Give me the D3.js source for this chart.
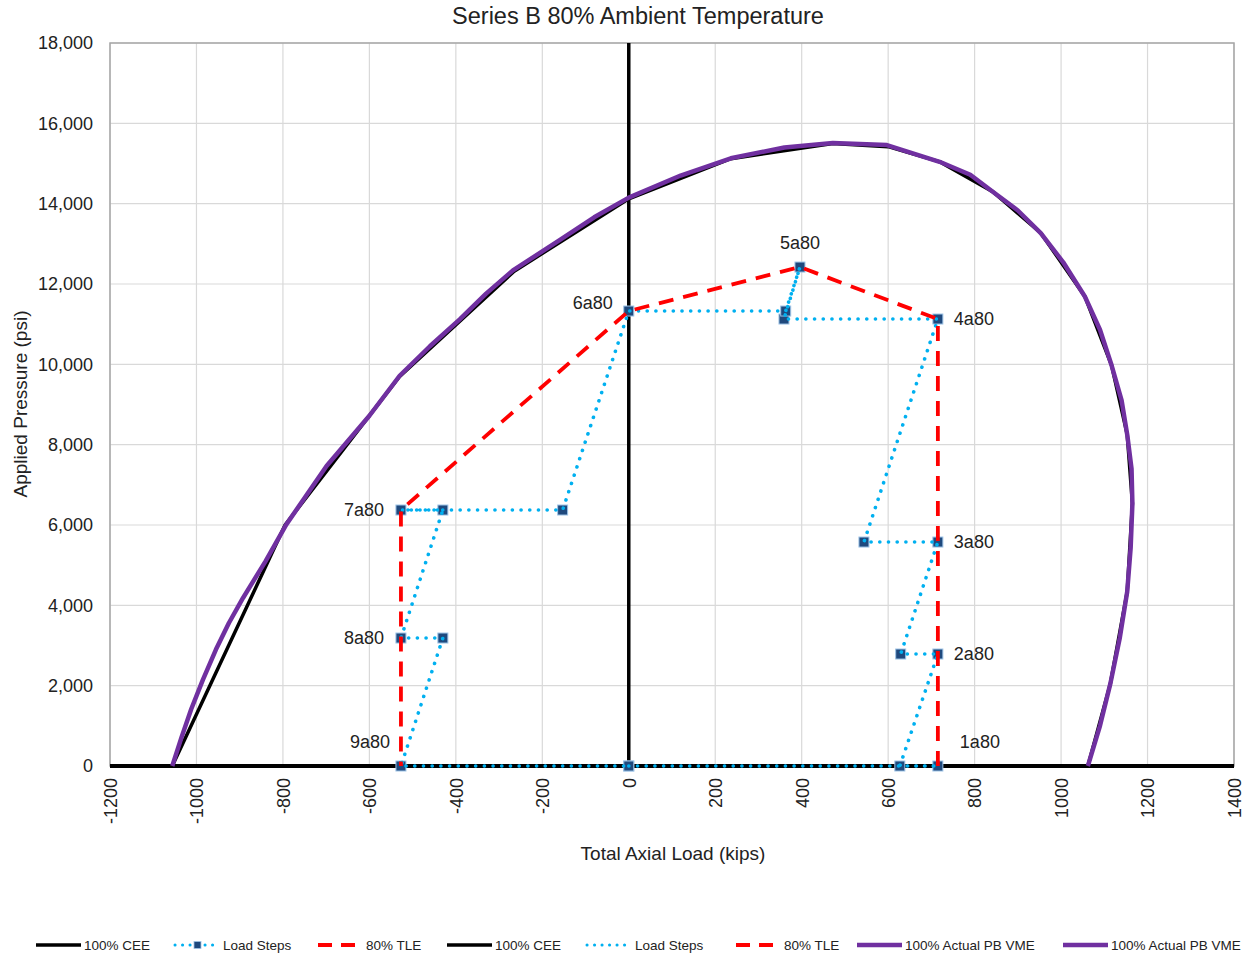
<!DOCTYPE html>
<html>
<head>
<meta charset="utf-8">
<script src="https://cdn.jsdelivr.net/npm/d3@7"></script>
<style>
  body { margin: 0; background: #fff; }
  svg text { font-family: "Liberation Sans", Arial, sans-serif; fill: #222; }
</style>
</head>
<body>
<div id="vis"></div>
<script>
// axis ticks
var xTicks = [-1200, -1000, -800, -600, -400, -200, 0, 200, 400, 600, 800, 1000, 1200, 1400];
var yTicks = [0, 2000, 4000, 6000, 8000, 10000, 12000, 14000, 16000, 18000];

// 100% CEE envelope (kips, psi)
var ceeX = [-1056, -795, -530, -265, 0, 236, 472, 600, 720, 842, 953, 1055, 1117, 1153, 1165, 1153, 1114, 1062];
var ceeY = [0, 6000, 9700, 12320, 14120, 15120, 15500, 15420, 15040, 14300, 13270, 11690, 9970, 8250, 6540, 4340, 2050, 0];

// 100% Actual PB VME envelope
var vmeX = [-1056, -1035, -1012, -985, -955, -925, -892, -840, -792, -699, -600, -530, -460, -391, -330, -268, -160, -80, 0, 120, 236, 360, 472, 597, 719, 790, 842, 900, 953, 1005, 1055, 1090, 1117, 1140, 1153, 1163, 1165, 1161, 1153, 1136, 1114, 1090, 1062];
var vmeY = [0, 700, 1420, 2150, 2900, 3560, 4190, 5100, 6015, 7470, 8720, 9716, 10450, 11120, 11760, 12340, 13090, 13660, 14150, 14700, 15130, 15400, 15510, 15460, 15043, 14720, 14297, 13830, 13268, 12540, 11688, 10860, 9970, 9100, 8252, 7400, 6535, 5440, 4341, 3200, 2051, 1000, 0];

// load steps path
var stepX = [0, 715, 627, 715, 629, 715, 544, 715, 359, 396, 363, 0, -153, -527, -430, -527, -430, -527, 0];
var stepY = [0, 0, 0, 2788, 2788, 5576, 5576, 11128, 11128, 12422, 11327, 11327, 6373, 6373, 6373, 3186, 3186, 0, 0];

// 80% TLE path
var tleX = [715, 715, 715, 715, 396, 0, -527, -527, -527];
var tleY = [0, 2788, 5576, 11128, 12422, 11327, 6373, 3186, 0];
var tleNames = ['1a80', '2a80', '3a80', '4a80', '5a80', '6a80', '7a80', '8a80', '9a80'];
var labelPlace = ['upright', 'right', 'right', 'right', 'above', 'upleft6', 'left', 'left', 'upleft'];

var legendNames = ['100% CEE', 'Load Steps', '80% TLE', '100% CEE', 'Load Steps', '80% TLE', '100% Actual PB VME', '100% Actual PB VME'];
var legendKinds = ['cee', 'steps', 'tle', 'cee', 'stepsNoMark', 'tle', 'vme', 'vme'];
var legendX = [36, 175, 318, 447, 587, 736, 857, 1063];

var colors = {
  cee: '#000000',
  steps: '#00B0F0',
  tle: '#FF0000',
  vme: '#7030A0',
  marker: '#1F497D',
  markerEdge: '#9DC3E6',
  grid: '#D9D9D9',
  border: '#A6A6A6'
};

var width = 1256, height = 953;
var plot = { left: 110, right: 1234, top: 43, bottom: 766 };

var svg = d3.select('#vis').append('svg')
  .attr('width', width)
  .attr('height', height);

var x = d3.scaleLinear().domain([-1200, 1400]).range([plot.left, plot.right]);
var y = d3.scaleLinear().domain([0, 18000]).range([plot.bottom, plot.top]);

function zipPts(xs, ys) {
  return xs.map(function(d, i) { return [d, ys[i]]; });
}

var line = d3.line()
  .x(function(d) { return x(d[0]); })
  .y(function(d) { return y(d[1]); });

/* gridlines */
svg.append('g')
  .selectAll('line')
  .data(xTicks)
  .enter().append('line')
    .attr('x1', function(d) { return x(d); })
    .attr('x2', function(d) { return x(d); })
    .attr('y1', plot.top)
    .attr('y2', plot.bottom)
    .attr('stroke', colors.grid)
    .attr('stroke-width', 1.2);

svg.append('g')
  .selectAll('line')
  .data(yTicks)
  .enter().append('line')
    .attr('x1', plot.left)
    .attr('x2', plot.right)
    .attr('y1', function(d) { return y(d); })
    .attr('y2', function(d) { return y(d); })
    .attr('stroke', colors.grid)
    .attr('stroke-width', 1.2);

svg.append('rect')
  .attr('x', plot.left)
  .attr('y', plot.top)
  .attr('width', plot.right - plot.left)
  .attr('height', plot.bottom - plot.top)
  .attr('fill', 'none')
  .attr('stroke', colors.border)
  .attr('stroke-width', 1.5);

/* axes */
var yAxis = d3.axisLeft(y)
  .tickValues(yTicks)
  .tickFormat(d3.format(','))
  .tickSize(0)
  .tickPadding(17);

var yG = svg.append('g')
  .attr('transform', 'translate(' + plot.left + ',0)')
  .call(yAxis);
yG.select('.domain').remove();
yG.selectAll('text').style('font-size', '18px');

// plain hyphen for negatives, as in the original
var xAxis = d3.axisBottom(x)
  .tickValues(xTicks)
  .tickFormat(function(d) { return String(d); })
  .tickSize(0);

var xG = svg.append('g')
  .attr('transform', 'translate(0,' + plot.bottom + ')')
  .call(xAxis);
xG.select('.domain').remove();
xG.selectAll('text')
  .style('font-size', '18px')
  .attr('transform', 'rotate(-90)')
  .attr('text-anchor', 'end')
  .attr('x', -12)
  .attr('y', 0)
  .attr('dy', '0.35em');
svg.selectAll('.tick text').attr('font-family', null);

/* zero lines of the CEE series */
svg.append('path')
  .attr('d', line([[-1200, 0], [1400, 0]]))
  .attr('stroke', colors.cee)
  .attr('stroke-width', 4)
  .attr('fill', 'none');

svg.append('path')
  .attr('d', line([[0, 0], [0, 18000]]))
  .attr('stroke', colors.cee)
  .attr('stroke-width', 3.5)
  .attr('fill', 'none');

/* envelopes */
svg.append('path')
  .attr('d', line(zipPts(ceeX, ceeY)))
  .attr('stroke', colors.cee)
  .attr('stroke-width', 3.5)
  .attr('stroke-linejoin', 'round')
  .attr('fill', 'none');

svg.append('path')
  .attr('d', line(zipPts(vmeX, vmeY)))
  .attr('stroke', colors.vme)
  .attr('stroke-width', 4.5)
  .attr('stroke-linejoin', 'round')
  .attr('fill', 'none');

/* load step markers */
var steps = zipPts(stepX, stepY);
svg.append('g')
  .selectAll('rect')
  .data(steps)
  .enter().append('rect')
    .attr('x', function(d) { return x(d[0]) - 5; })
    .attr('y', function(d) { return y(d[1]) - 5; })
    .attr('width', 10)
    .attr('height', 10)
    .attr('fill', colors.marker)
    .attr('stroke', colors.markerEdge)
    .attr('stroke-width', 1);

svg.append('path')
  .attr('d', line(steps))
  .attr('stroke', colors.steps)
  .attr('stroke-width', 3.6)
  .attr('stroke-linecap', 'round')
  .attr('stroke-dasharray', '0.1 8.6')
  .attr('fill', 'none');

/* 80% TLE */
var tle = zipPts(tleX, tleY);
svg.append('path')
  .attr('d', line(tle))
  .attr('stroke', colors.tle)
  .attr('stroke-width', 3.8)
  .attr('stroke-dasharray', '15 10')
  .attr('fill', 'none');

/* TLE labels */
var offsets = {
  right:   { dx: 16,  dy: 0,   anchor: 'start' },
  left:    { dx: -17, dy: 0,   anchor: 'end' },
  above:   { dx: 0,   dy: -24, anchor: 'middle' },
  upright: { dx: 22,  dy: -24, anchor: 'start' },
  upleft:  { dx: -11, dy: -24, anchor: 'end' },
  upleft6: { dx: -16, dy: -8,  anchor: 'end' }
};

svg.append('g')
  .selectAll('text')
  .data(tle)
  .enter().append('text')
    .attr('x', function(d, i) { return x(d[0]) + offsets[labelPlace[i]].dx; })
    .attr('y', function(d, i) { return y(d[1]) + offsets[labelPlace[i]].dy; })
    .attr('dy', '0.35em')
    .attr('text-anchor', function(d, i) { return offsets[labelPlace[i]].anchor; })
    .style('font-size', '18px')
    .text(function(d, i) { return tleNames[i]; });

/* titles */
svg.append('text')
  .attr('x', 638)
  .attr('y', 16)
  .attr('dy', '0.35em')
  .attr('text-anchor', 'middle')
  .style('font-size', '23.5px')
  .text('Series B 80% Ambient Temperature');

svg.append('text')
  .attr('x', 673)
  .attr('y', 853)
  .attr('dy', '0.35em')
  .attr('text-anchor', 'middle')
  .style('font-size', '19px')
  .text('Total Axial Load (kips)');

svg.append('text')
  .attr('transform', 'translate(20,404) rotate(-90)')
  .attr('dy', '0.35em')
  .attr('text-anchor', 'middle')
  .style('font-size', '19px')
  .text('Applied Pressure (psi)');

/* legend */
var legendY = 945, sampleLen = 45;
var legend = svg.append('g');

legendNames.forEach(function(name, i) {
  var kind = legendKinds[i], x0 = legendX[i];
  var sample = legend.append('line')
    .attr('x1', x0).attr('x2', x0 + sampleLen)
    .attr('y1', legendY).attr('y2', legendY)
    .attr('fill', 'none');

  if (kind === 'cee') {
    sample.attr('stroke', colors.cee).attr('stroke-width', 3.5);
  } else if (kind === 'vme') {
    sample.attr('stroke', colors.vme).attr('stroke-width', 4.5);
  } else if (kind === 'tle') {
    sample.attr('stroke', colors.tle).attr('stroke-width', 3.8)
      .attr('stroke-dasharray', '14 9');
  } else {
    sample.attr('stroke', colors.steps).attr('stroke-width', 3)
      .attr('stroke-linecap', 'round')
      .attr('stroke-dasharray', '0.1 7.4');
    if (kind === 'steps') {
      legend.append('rect')
        .attr('x', x0 + sampleLen / 2 - 3.5)
        .attr('y', legendY - 3.5)
        .attr('width', 7).attr('height', 7)
        .attr('fill', colors.marker)
        .attr('stroke', colors.markerEdge)
        .attr('stroke-width', 0.8);
    }
  }

  legend.append('text')
    .attr('x', x0 + sampleLen + 3)
    .attr('y', legendY)
    .attr('dy', '0.35em')
    .style('font-size', '13.5px')
    .text(name);
});
</script>
</body>
</html>
